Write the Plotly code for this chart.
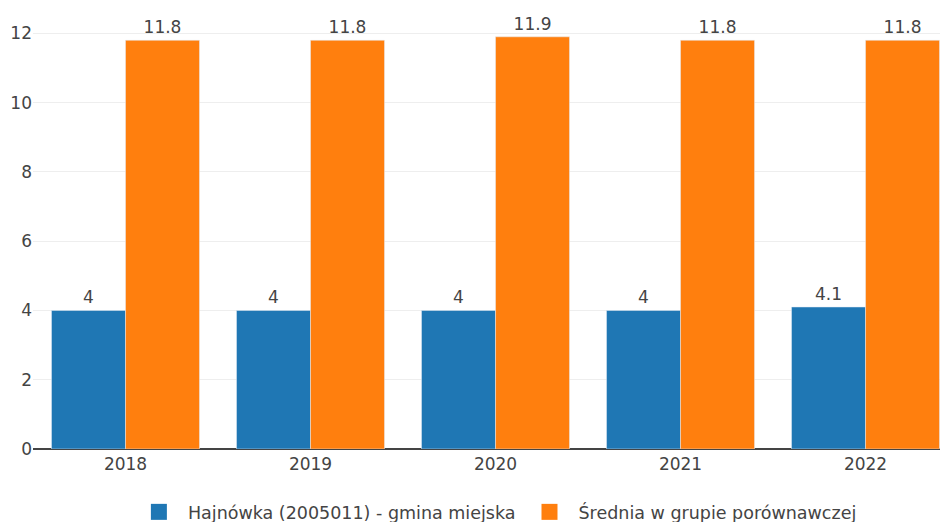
import plotly.graph_objects as go

years = ["2018", "2019", "2020", "2021", "2022"]
hajnowka = [4, 4, 4, 4, 4.1]
srednia = [11.8, 11.8, 11.9, 11.8, 11.8]
name_a = "Hajnówka (2005011) - gmina miejska"
name_b = "Średnia w grupie porównawczej"
color_a = "#1f77b4"
color_b = "#ff7f0e"

font = dict(family="DejaVu Sans, Verdana, sans-serif", size=17, color="#444")
legend_font = dict(family="DejaVu Sans, Verdana, sans-serif", size=17.5, color="#444")

fig = go.Figure()
fig.add_trace(go.Bar(x=years, y=hajnowka, name=name_a, marker_color=color_a,
                     text=[str(v) for v in hajnowka], textposition="outside",
                     textfont=font, cliponaxis=False, showlegend=False))
fig.add_trace(go.Bar(x=years, y=srednia, name=name_b, marker_color=color_b,
                     text=[str(v) for v in srednia], textposition="outside",
                     textfont=font, cliponaxis=False, showlegend=False))
# legend entries with larger square symbols
for nm, col in [(name_a, color_a), (name_b, color_b)]:
    fig.add_trace(go.Scatter(x=[None], y=[None], mode="markers", name=nm,
                             marker=dict(symbol="square", size=16, color=col),
                             showlegend=True, hoverinfo="skip"))

fig.update_layout(
    width=948, height=522,
    margin=dict(l=25, r=0, t=7, b=81, autoexpand=False),
    paper_bgcolor="white", plot_bgcolor="white",
    font=font,
    barmode="group", bargap=0.2, bargroupgap=0,
    showlegend=True,
    legend=dict(orientation="h", x=0.5015, xanchor="center", xref="paper",
                y=0.069, yanchor="top", yref="container",
                font=legend_font, itemwidth=48),
    xaxis=dict(type="category", categoryorder="array", categoryarray=years,
               range=[-0.5, 4.489], showgrid=False,
               showline=True, linecolor="#444", linewidth=1, ticks="",
               tickfont=font, automargin=False),
    yaxis=dict(range=[0, 12.53], dtick=2, showgrid=True, gridcolor="#eee",
               zeroline=True, zerolinecolor="#444", zerolinewidth=2,
               tickfont=font, ticks="", automargin=False),
)
fig.write_html("out.html")
